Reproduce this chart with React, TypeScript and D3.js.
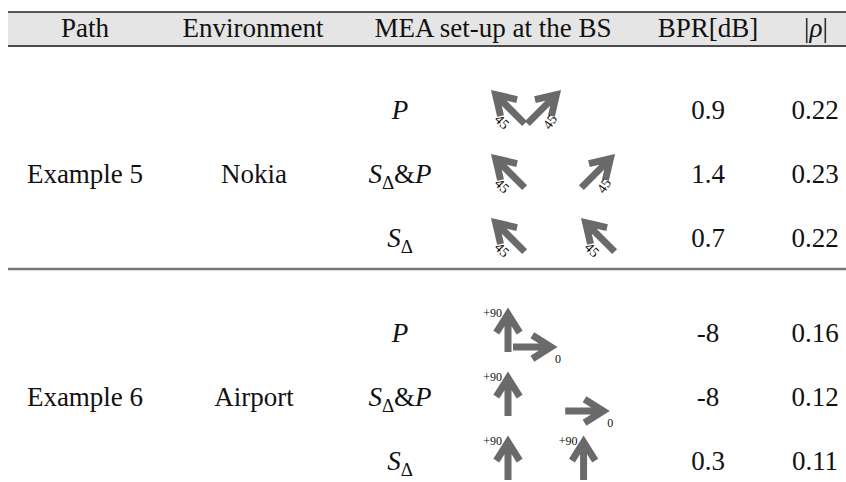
import React from "react";
import * as d3 from "d3";

// ---------- data ----------
const headers = ["Path", "Environment", "MEA set-up at the BS", "BPR[dB]", "|ρ|"];
const paths = ["Example 5", "Example 6"];
const environments = ["Nokia", "Airport"];
const setups = ["P", "S&P", "S", "P", "S&P", "S"];
const bprValues = ["0.9", "1.4", "0.7", "-8", "-8", "0.3"];
const rhoValues = ["0.22", "0.23", "0.22", "0.16", "0.12", "0.11"];
// antenna arrows per row: angle (deg, 90 = up), slot (horizontal position unit), drop (vertical unit)
const arrowAngles = [[135, 45], [135, 45], [135, 135], [90, 0], [90, 0], [90, 90]];
const arrowSlots = [[0, 1], [0, 2.5], [0, 2.5], [0, 0.75], [0, 2.2], [0, 2.1]];
const arrowDrops = [[0, 0], [0, 0], [0, 0], [0, 1], [0, 1], [0, 0]];
const arrowLabels = [["45", "45"], ["45", "45"], ["45", "45"], ["+90", "0"], ["+90", "0"], ["+90", "+90"]];

const W = 846;
const H = 482;
const FONT = "Liberation Serif, DejaVu Serif, serif";
const GRAY = "#6a6a6a";

const colX = d3
  .scaleOrdinal<string, number>()
  .domain(["path", "env", "setup", "bpr", "rho"])
  .range([85, 254, 400, 708, 815]);
const headerX = [85, 253, 493, 708, 816];

const rowY = (i: number) => {
  const group = Math.floor(i / 3);
  const within = i % 3;
  const base = d3.scaleLinear().domain([0, 1]).range([110, 174]);
  return base(within) + group * 223;
};
const sepY = rowY(2) + 31;
const slotX = d3.scaleLinear().domain([0, 1]).range([508, 544]);
const dropY = d3.scaleLinear().domain([0, 1]).range([-3, 14]);

const txt = (size: number, extra: React.CSSProperties = {}): React.CSSProperties => ({
  fontFamily: FONT,
  fontSize: size,
  ...extra,
});

function SetupLabel({ kind, x, y }: { kind: string; x: number; y: number }) {
  const common = { x, y, textAnchor: "middle" as const, fill: "#111", style: txt(27) };
  if (kind === "P")
    return (
      <text {...common}>
        <tspan style={{ fontStyle: "italic" }}>P</tspan>
      </text>
    );
  if (kind === "S")
    return (
      <text {...common}>
        <tspan style={{ fontStyle: "italic" }}>S</tspan>
        <tspan style={{ fontSize: 19 }} dy={6}>Δ</tspan>
      </text>
    );
  return (
    <text {...common}>
      <tspan style={{ fontStyle: "italic" }}>S</tspan>
      <tspan style={{ fontSize: 19 }} dy={6}>Δ</tspan>
      <tspan dy={-6}>&amp;</tspan>
      <tspan style={{ fontStyle: "italic" }}>P</tspan>
    </text>
  );
}

function Arrow({ cx, cy, angle, label }: { cx: number; cy: number; angle: number; label: string }) {
  const a = (angle * Math.PI) / 180;
  const dx = Math.cos(a);
  const dy = -Math.sin(a);
  const half = angle % 90 === 0 ? 22 : 23.5;
  const tipVis = [cx + dx * half, cy + dy * half];
  const tip = [tipVis[0] - dx * 6, tipVis[1] - dy * 6];
  const tail = [cx - dx * half, cy - dy * half];
  const armLen = 22;
  const arm = (s: number) => {
    const b = Math.atan2(-dy, -dx) + s * (32 * Math.PI) / 180;
    return [tip[0] + Math.cos(b) * armLen, tip[1] + Math.sin(b) * armLen];
  };
  const a1 = arm(1);
  const a2 = arm(-1);
  const d = `M${tail[0]},${tail[1]}L${tip[0]},${tip[1]}M${a1[0]},${a1[1]}L${tip[0]},${tip[1]}L${a2[0]},${a2[1]}`;
  let labelEl: React.ReactNode = null;
  if (angle === 135 || angle === 45) {
    const side = angle === 135 ? -1 : 1;
    const lx = cx + side * 6;
    const ly = cy + 15;
    labelEl = (
      <text
        x={lx}
        y={ly}
        transform={`rotate(${angle === 135 ? 45 : -55},${lx},${ly})`}
        textAnchor="middle"
        dominantBaseline="central"
        fill="#111"
        style={txt(14)}
      >
        {label}
      </text>
    );
  } else if (angle === 90) {
    labelEl = (
      <text x={tipVis[0] - 6} y={tipVis[1] + 9} textAnchor="end" fill="#111" style={txt(12)}>
        {label}
      </text>
    );
  } else if (angle === 0) {
    labelEl = (
      <text x={tipVis[0] - 2} y={tipVis[1] + 16} textAnchor="start" fill="#111" style={txt(12)}>
        {label}
      </text>
    );
  }
  return (
    <g>
      <path d={d} fill="none" stroke={GRAY} strokeWidth={7} strokeLinejoin="miter" strokeMiterlimit={10} />
      {labelEl}
    </g>
  );
}

export default function App() {
  const textProps = { textAnchor: "middle" as const, fill: "#111", style: txt(27) };
  return (
    <svg
      width={W}
      height={H}
      style={{ position: "absolute", left: 0, top: 0, background: "#fff" }}
      xmlns="http://www.w3.org/2000/svg"
    >
      <rect x={0} y={0} width={W} height={H} fill="#fff" />
      {/* header */}
      <rect x={8} y={12} width={W - 8} height={34} fill="#e5e5e5" />
      <line x1={8} x2={W} y1={12} y2={12} stroke="#222" strokeWidth={1.5} />
      <line x1={8} x2={W} y1={46} y2={46} stroke="#4a4a4a" strokeWidth={2} />
      {headers.map((h, i) => (
        <text key={h} x={headerX[i]} y={37} {...textProps}>
          {h === "|ρ|" ? (
            <>
              <tspan>|</tspan>
              <tspan style={{ fontStyle: "italic" }}>ρ</tspan>
              <tspan>|</tspan>
            </>
          ) : (
            h
          )}
        </text>
      ))}
      {/* separator */}
      <line x1={8} x2={W} y1={sepY} y2={sepY} stroke="#777" strokeWidth={2.5} />
      {paths.map((p, g) => (
        <text key={p} x={colX("path")} y={rowY(g * 3 + 1) + 9} {...textProps}>
          {p}
        </text>
      ))}
      {environments.map((e, g) => (
        <text key={e} x={colX("env")} y={rowY(g * 3 + 1) + 9} {...textProps}>
          {e}
        </text>
      ))}
      {setups.map((s, i) => (
        <SetupLabel key={"s" + i} kind={s} x={colX("setup")} y={rowY(i) + 9} />
      ))}
      {bprValues.map((v, i) => (
        <text key={"b" + i} x={colX("bpr")} y={rowY(i) + 9} {...textProps}>
          {v}
        </text>
      ))}
      {rhoValues.map((v, i) => (
        <text key={"r" + i} x={colX("rho")} y={rowY(i) + 9} {...textProps}>
          {v}
        </text>
      ))}
      {arrowAngles.map((angles, i) =>
        angles.map((ang, j) => (
          <Arrow
            key={`a${i}-${j}`}
            cx={slotX(arrowSlots[i][j])}
            cy={rowY(i) + dropY(arrowDrops[i][j])}
            angle={ang}
            label={arrowLabels[i][j]}
          />
        ))
      )}
    </svg>
  );
}
